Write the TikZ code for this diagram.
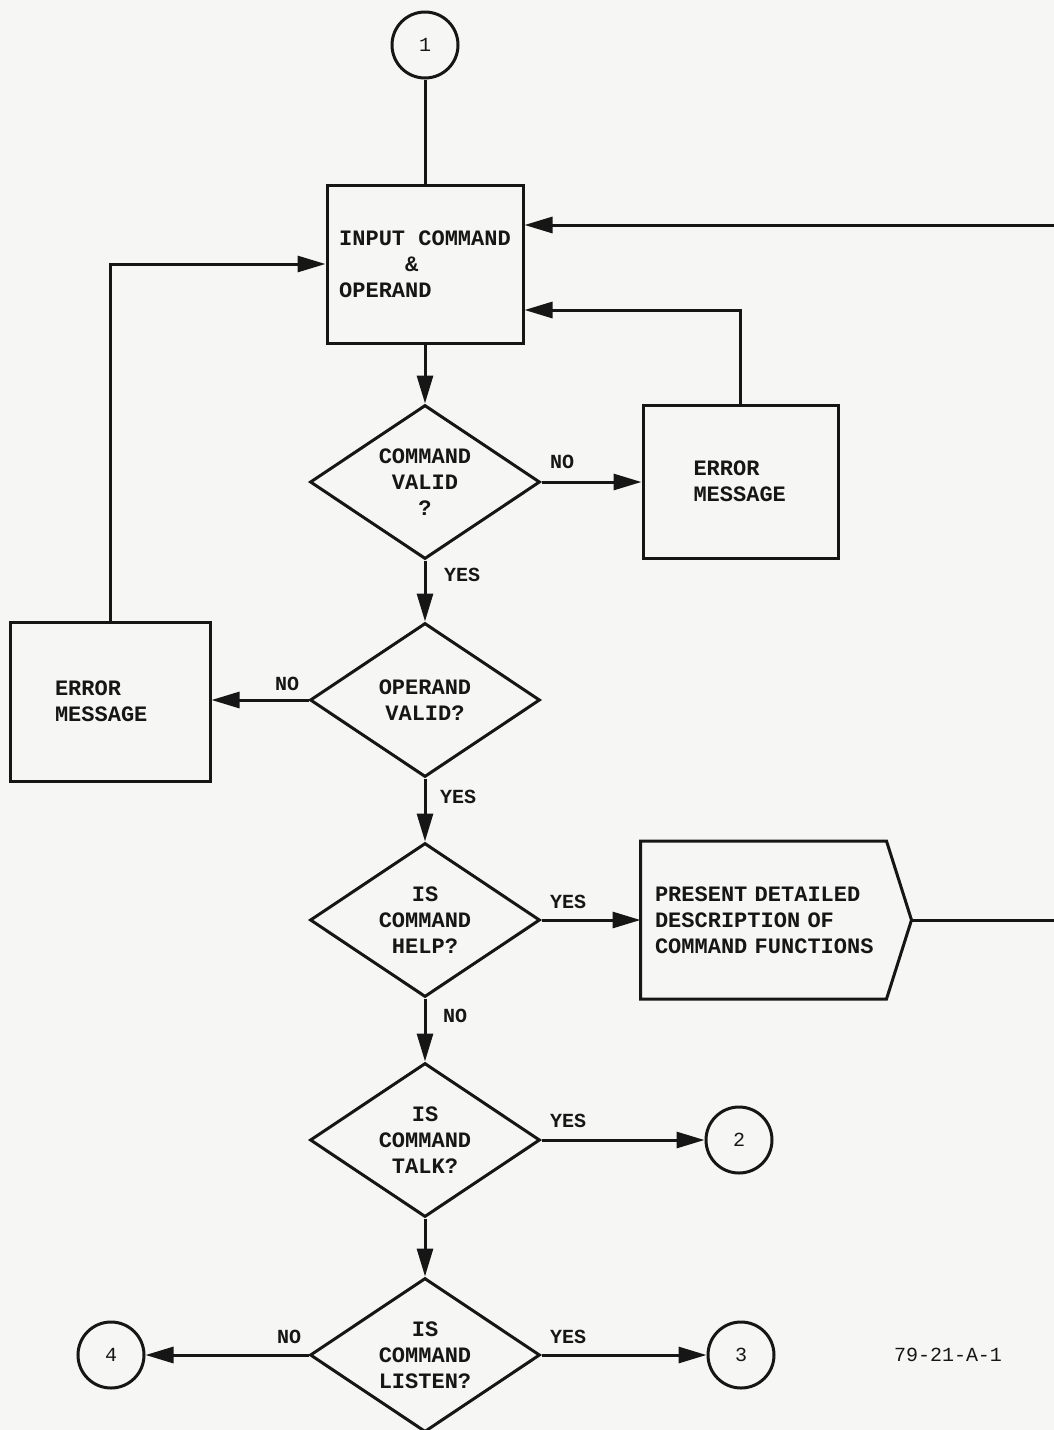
\documentclass[tikz,border=0pt]{standalone}
\usepackage{fontspec}
\setmonofont{Liberation Mono}
\usetikzlibrary{shapes.geometric,arrows.meta}
\definecolor{paper}{RGB}{246,246,244}
\definecolor{ink}{RGB}{22,22,22}
\begin{document}
\begin{tikzpicture}[x=0.5pt,y=-0.5pt,
  every node/.style={font=\ttfamily\bfseries\fontsize{11}{13}\selectfont, text=ink},
  line/.style={draw=ink, line width=1.5pt},
  arr/.style={line, -{Triangle[length=14pt,width=8pt]}},
  box/.style={draw=ink, line width=1.5pt, rectangle, align=left, inner sep=0pt},
  dec/.style={draw=ink, line width=1.5pt, diamond, aspect=1.5, inner sep=0pt, minimum width=115pt, minimum height=77pt, align=center},
  conn/.style={draw=ink, line width=1.5pt, circle, minimum size=33pt, inner sep=0pt, font=\ttfamily\fontsize{10}{12}\selectfont},
  lbl/.style={font=\ttfamily\bfseries\fontsize{10}{12}\selectfont}
]
\useasboundingbox (0,0) rectangle (1054,1430);
\fill[paper] (0,0) rectangle (1054,1430);
\clip (0,0) rectangle (1054,1430);

% nodes
\node[conn] (c1) at (425,45) {1};
\node[box, minimum width=98pt, minimum height=79pt] (inbox) at (425,264) {INPUT COMMAND\\\phantom{INPUT}\&\\OPERAND};
\node[dec] (d1) at (425,482) {COMMAND\\VALID\\?};
\node[box, minimum height=76.5pt, text width=47pt, inner xsep=25.25pt] (err1) at (740.5,481.5) {ERROR\\MESSAGE};
\node[dec] (d2) at (425,700) {OPERAND\\VALID?};
\node[box, minimum height=79.5pt, text width=55pt, inner xsep=22.5pt] (err2) at (110,701.5) {ERROR\\MESSAGE};
\node[dec] (d3) at (425,920) {IS\\COMMAND\\HELP?};
\node[box, draw=none, minimum height=77.5pt, text width=121pt, inner xsep=6.5pt] (pres) at (776,920) {PRESENT DETAILED\\DESCRIPTION OF\\COMMAND FUNCTIONS};
\draw[line] (pres.north west) -- ([xshift=-12.5pt]pres.north east) -- (pres.east) -- ([xshift=-12.5pt]pres.south east) -- (pres.south west) -- cycle;
\node[dec] (d4) at (425,1140) {IS\\COMMAND\\TALK?};
\node[conn] (c2) at (739,1140) {2};
\node[dec] (d5) at (425,1355) {IS\\COMMAND\\LISTEN?};
\node[conn] (c3) at (741,1355) {3};
\node[conn] (c4) at (111,1355) {4};
\coordinate (off) at (1100,920);

% labels
\node[lbl] (l1) at (562,462) {NO};
\node[lbl] (l2) at (462,575) {YES};
\node[lbl] (l3) at (287,684) {NO};
\node[lbl] (l4) at (458,797) {YES};
\node[lbl] (l5) at (568,902) {YES};
\node[lbl] (l6) at (455,1016) {NO};
\node[lbl] (l7) at (568,1121) {YES};
\node[lbl] (l8) at (289,1337) {NO};
\node[lbl] (l9) at (568,1337) {YES};
\node[font=\ttfamily\fontsize{10}{12}\selectfont] (ref) at (948,1355) {79-21-A-1};

% connectors
\draw[line] (c1) -- (inbox);
\draw[arr] (inbox) -- (d1);
\draw[arr] (d1.east) -- (d1.east -| err1.west);
\draw[arr] (err1.north) |- ([yshift=-23pt]inbox.east);
\draw[arr] (d1) -- (d2);
\draw[arr] (d2.west) -- (d2.west -| err2.east);
\draw[arr] (err2.north) |- (inbox.west);
\draw[arr] (d2) -- (d3);
\draw[arr] (d3.east) -- (d3.east -| pres.west);
\draw[arr] (pres.east) -- (off) |- ([yshift=19.5pt]inbox.east);
\draw[arr] (d3) -- (d4);
\draw[arr] (d4.east) -- (c2);
\draw[arr] (d4) -- (d5);
\draw[arr] (d5.east) -- (c3);
\draw[arr] (d5.west) -- (c4);
\end{tikzpicture}
\end{document}
